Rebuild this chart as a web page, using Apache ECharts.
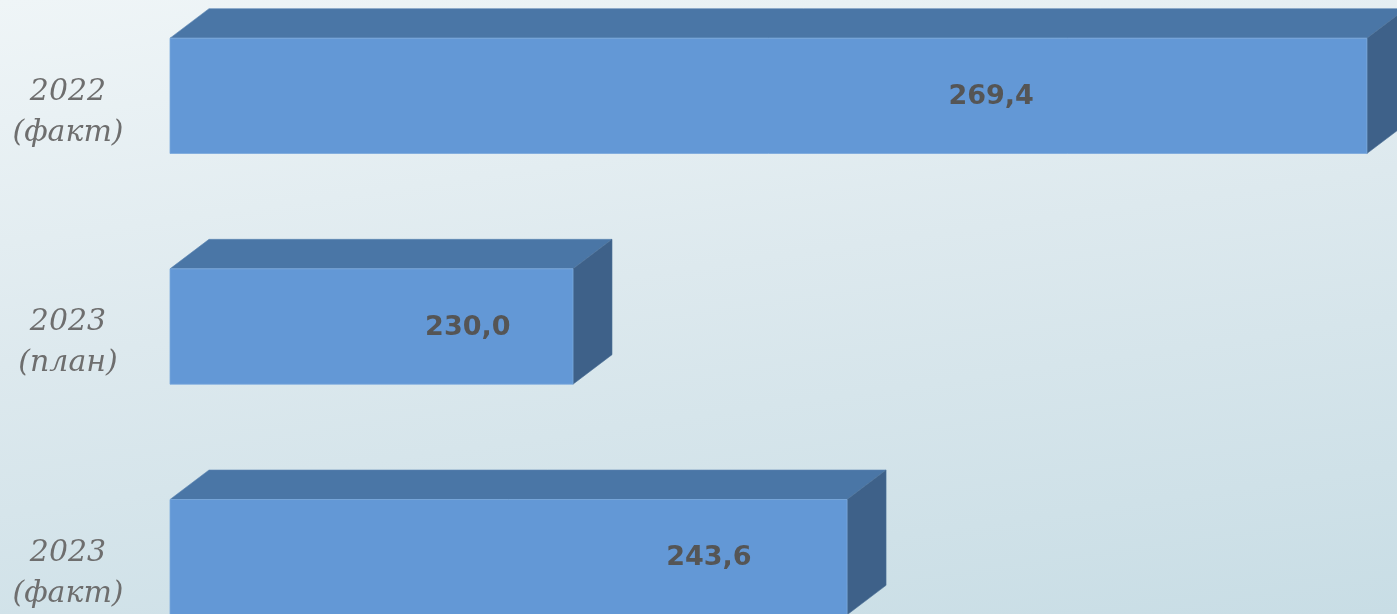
<!DOCTYPE html>
<html>
<head>
<meta charset="utf-8">
<script src="https://cdn.jsdelivr.net/npm/echarts@6/dist/echarts.min.js"></script>
<style>
  html, body { margin: 0; padding: 0; }
  #chart {
    width: 1397px;
    height: 614px;
    background: linear-gradient(172deg, #eff5f7 0%, #dde9ee 45%, #c8dde5 100%);
  }
</style>
</head>
<body>
<div id="chart"></div>
<script>
// categories and values
const categories = ['2022\n(факт)', '2023\n(план)', '2023\n(факт)']
const values = [269.4, 230.0, 243.6]
const valueLabels = ['269,4', '230,0', '243,6']

// axis range (bars start at 210)
const axisMin = 210
const axisMax = 270

// where the value label sits along each bar (style only)
const labelAlong = [0.686, 0.739, 0.796]

const chart = echarts.init(document.getElementById('chart'), null, { renderer: 'canvas' })

function renderBar(params, api) {
  const idx = api.value(1)
  const start = api.coord([axisMin, idx])
  const end = api.coord([api.value(0), idx])
  const band = api.size([0, 1])[1]
  const h = band * 0.5
  const cy = end[1] - band * 0.0715
  const dx = 39
  const dy = 29.5
  const x1 = start[0]
  const x2 = end[0]
  const yT = cy - h / 2
  const yB = cy + h / 2
  return {
    type: 'group',
    children: [
      {
        type: 'polygon',
        shape: { points: [[x1, yT], [x1 + dx, yT - dy], [x2 + dx, yT - dy], [x2, yT]] },
        style: { fill: '#4a76a6', stroke: '#5a84b2', lineWidth: 0.6 }
      },
      {
        type: 'polygon',
        shape: { points: [[x2, yT], [x2 + dx, yT - dy], [x2 + dx, yB - dy], [x2, yB]] },
        style: { fill: '#3e6189', stroke: '#4a6e96', lineWidth: 0.6 }
      },
      {
        type: 'rect',
        shape: { x: x1, y: yT, width: x2 - x1, height: h },
        style: { fill: '#6398d6', stroke: '#7aa8dc', lineWidth: 0.8 }
      },
      {
        type: 'text',
        style: {
          x: x1 + labelAlong[idx] * (x2 - x1),
          y: cy + 1,
          text: valueLabels[idx],
          fill: '#555555',
          font: 'bold 27px "DejaVu Sans"',
          align: 'center',
          verticalAlign: 'middle'
        }
      }
    ]
  }
}

chart.setOption({
  backgroundColor: 'transparent',
  animation: false,
  grid: { left: 170, width: 1209, top: -3, height: 692, outerBoundsMode: 'none', containLabel: false },
  xAxis: {
    type: 'value',
    min: axisMin,
    max: axisMax,
    show: false
  },
  yAxis: {
    type: 'category',
    inverse: true,
    data: categories,
    axisLine: { show: false },
    axisTick: { show: false },
    splitLine: { show: false },
    axisLabel: {
      align: 'center',
      margin: 102,
      color: '#6e6e6e',
      fontFamily: 'DejaVu Serif',
      fontStyle: 'italic',
      fontSize: 30,
      lineHeight: 41
    }
  },
  series: [{
    type: 'custom',
    clip: false,
    renderItem: renderBar,
    encode: { x: 0, y: 1 },
    data: values.map((v, i) => [v, i])
  }]
})
</script>
</body>
</html>
